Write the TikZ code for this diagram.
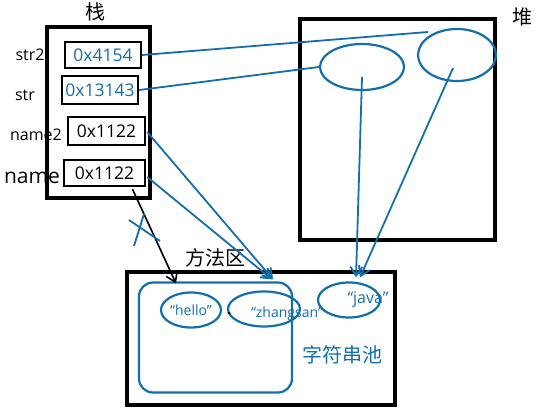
\documentclass[tikz,border=0pt]{standalone}
\usepackage{fontspec}
\setmainfont{Open Sans}
\newfontfamily\cjk{Noto Sans CJK SC}
\usepackage{tikz}
\usetikzlibrary{arrows.meta,shapes.geometric,calc}
\definecolor{memblue}{RGB}{20,110,170}
\tikzset{
  areabox/.style={draw, line width=3.6pt, inner sep=0pt},
  cellbox/.style={draw, line width=2.4pt, inner sep=0pt, font=\fontsize{17.5}{20}\selectfont},
  varlabel/.style={inner sep=0pt, font=\fontsize{16}{18}\selectfont},
  titlelabel/.style={inner sep=0pt, font=\cjk\fontsize{20}{22}\selectfont},
  strobj/.style={draw=memblue, ellipse, line width=2.2pt, inner sep=0pt},
  strtext/.style={inner sep=0pt, text=memblue, font=\fontsize{14}{16}\selectfont},
  refline/.style={draw=memblue, line width=1.8pt},
  refarrow/.style={refline, -{Straight Barb[length=9pt,width=12pt]}}
}
\begin{document}
\begin{tikzpicture}[x=1pt,y=-1pt]
\useasboundingbox (0,0) rectangle (545,414);
% stack
\node[areabox, minimum width=103pt, minimum height=171pt] (stack) at (98.5,112.5) {};
\node[titlelabel] (stacklbl) at (95,12) {栈};
\node[cellbox, minimum width=76pt, minimum height=26pt, text=memblue] (cstrb) at (103,55) {0x4154};
\node[cellbox, minimum width=76pt, minimum height=28pt, text=memblue] (cstr) at (100,90) {0x13143};
\node[cellbox, minimum width=77pt, minimum height=28pt] (cnameb) at (106.5,131) {0x1122};
\node[cellbox, minimum width=81pt, minimum height=26pt] (cname) at (104.5,173) {0x1122};
\node[varlabel] (lstrb) at (30,55) {str2};
\node[varlabel] (lstr) at (25,95) {str};
\node[varlabel] (lnameb) at (36,135) {name2};
\node[varlabel, font=\fontsize{21}{23}\selectfont] (lname) at (32,178) {name};

% heap
\node[areabox, minimum width=195pt, minimum height=221pt] (heap) at (397.5,129.5) {};
\node[titlelabel] (heaplbl) at (522,17) {堆};
\node[strobj, minimum width=84pt, minimum height=46pt] (hobja) at (362,67) {};
\node[strobj, minimum width=78pt, minimum height=52pt] (hobjb) at (457,55) {};

% method area
\node[areabox, minimum width=268pt, minimum height=133pt] (method) at (261,338.5) {};
\node[titlelabel] (methodlbl) at (215,258) {方法区};
\node[draw=memblue, line width=2.2pt, rounded corners=14pt, minimum width=153pt, minimum height=110pt] (pool) at (215.5,337.5) {};
\node[titlelabel, text=memblue] (poollbl) at (342,355) {字符串池};
\node[strobj, minimum width=60pt, minimum height=35pt] (shello) at (191,310) {};
\node[strtext] (thello) at (191,310) {“hello”};
\node[strobj, minimum width=72pt, minimum height=35pt] (szhang) at (264,309) {};
\node[strtext] (tzhang) at (287,314) {“zhangsan”};
\node[strobj, minimum width=62pt, minimum height=35pt] (sjava) at (349,300) {};
\node[strtext, font=\fontsize{16}{18}\selectfont] (tjava) at (368,300) {“java”};
\node[inner sep=0.9pt, fill=black, circle] (dot) at (229,313) {};

% references
\coordinate (hobjbend) at (428,32);
\draw[refline] (cstrb.east) -- (hobjbend);
\draw[refline] (cstr.east) -- (hobja.west);
\draw[refarrow] ($(hobja.center)+(0,10)$) -- ($(sjava.north)+(7,-4)$);
\draw[refarrow] ($(hobjb.center)+(-4,13)$) -- ($(sjava.north)+(11,-4)$);
\draw[refarrow] ($(cnameb.east)+(1,1)$) -- ($(szhang.north)+(9,-11)$);
\draw[refarrow] ($(cname.east)+(1,4)$) -- ($(szhang.north)+(8,-11)$);
\draw[black, line width=1.6pt, -{Straight Barb[length=9pt,width=12pt]}] ($(cname.south)+(28,2)$) -- ($(shello.north)+(-15,-8)$);
% cross
\draw[refline] (129,220) -- (160,241);
\draw[refline] (144,214) -- (134,246);
\end{tikzpicture}
\end{document}
